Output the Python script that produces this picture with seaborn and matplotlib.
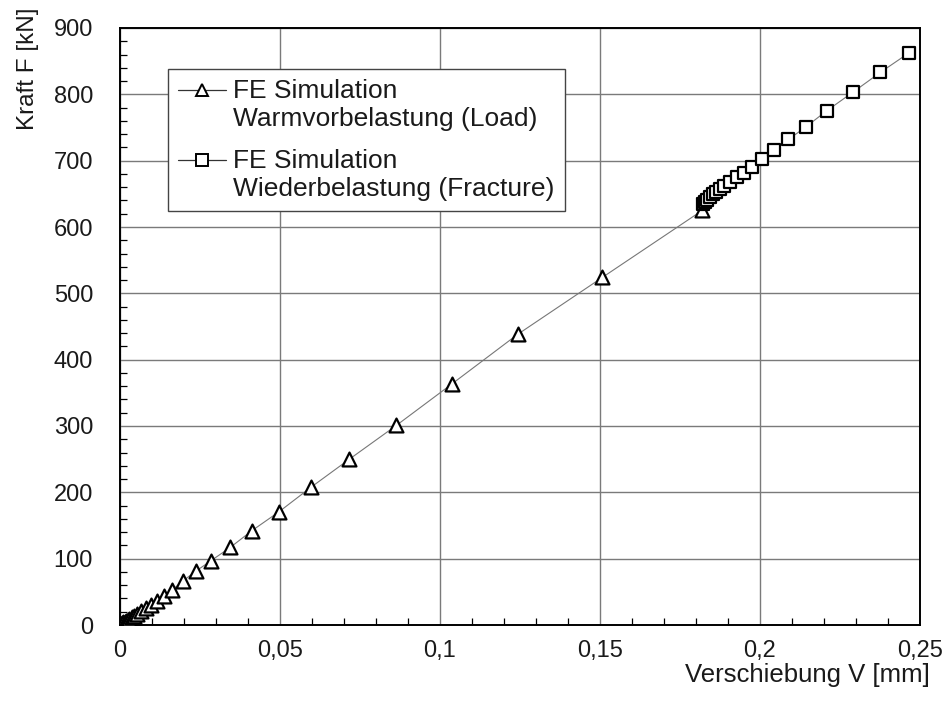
import numpy as np
import pandas as pd
import matplotlib
matplotlib.use("Agg")
import matplotlib.pyplot as plt
import seaborn as sns
from matplotlib.legend_handler import HandlerLine2D
from matplotlib.lines import Line2D
from matplotlib.ticker import MultipleLocator

# ---- data ----
load_v = [0.0, 0.0003, 0.0006, 0.0009, 0.0012, 0.0016, 0.0020, 0.0025, 0.0031,
          0.0038, 0.0046, 0.0056, 0.0068, 0.0082, 0.0099, 0.0117, 0.0138,
          0.0164, 0.0197, 0.0238, 0.0286, 0.0346, 0.0413, 0.0499, 0.0599,
          0.0718, 0.0865, 0.1037, 0.1243, 0.1508, 0.1820]
load_f = [0, 1, 2, 3, 4, 5.2, 6.4, 7.8, 9.5, 11.5, 14, 17, 20.5, 25, 30, 36.4,
          43.5, 52.5, 66, 81, 97, 117, 142, 171, 208, 250, 301, 363, 438, 524, 625]

frac_v = [0.1822, 0.1828, 0.1835, 0.1843, 0.1852, 0.1862, 0.1875, 0.1889,
          0.1907, 0.1928, 0.1951, 0.1975, 0.2008, 0.2044, 0.2089, 0.2144,
          0.2208, 0.2290, 0.2376, 0.2467]
frac_f = [634, 637, 641, 645, 649, 653, 657, 662, 668, 675, 682, 691, 702,
          716, 732, 751, 775, 803, 833, 863]

x_ticks = [0, 0.05, 0.1, 0.15, 0.2, 0.25]
x_ticklabels = ["0", "0,05", "0,1", "0,15", "0,2", "0,25"]
y_ticks = [0, 100, 200, 300, 400, 500, 600, 700, 800, 900]

label_load = ["FE Simulation", "Warmvorbelastung (Load)"]
label_frac = ["FE Simulation", "Wiederbelastung (Fracture)"]
x_label = "Verschiebung V [mm]"
y_label = "Kraft F [kN]"

# ---- styling ----
sns.set_theme(style="white")
plt.rcParams["font.family"] = ["Liberation Sans", "DejaVu Sans"]
TXT = "#1a1a1a"

fig = plt.figure(figsize=(9.5, 7.04), dpi=100)
ax = fig.add_axes([119.5 / 950, 79 / 704, 800.5 / 950, 597 / 704])

all_df = pd.DataFrame({"V": load_v + frac_v, "F": load_f + frac_f})
sns.lineplot(data=all_df, x="V", y="F", sort=False, estimator=None,
             color="#777777", linewidth=0.8, ax=ax, zorder=3)

load_df = pd.DataFrame({"V": load_v, "F": load_f})
frac_df = pd.DataFrame({"V": frac_v, "F": frac_f})
sns.scatterplot(data=load_df, x="V", y="F", marker="^", s=100,
                facecolor="white", edgecolor="black", linewidth=1.6,
                ax=ax, zorder=4)
sns.scatterplot(data=frac_df, x="V", y="F", marker="s", s=82,
                facecolor="white", edgecolor="black", linewidth=1.6,
                ax=ax, zorder=4)

ax.set_xlim(0, 0.25)
ax.set_ylim(0, 900)
ax.set_xticks(x_ticks)
ax.set_xticklabels(x_ticklabels)
ax.set_yticks(y_ticks)
ax.xaxis.set_minor_locator(MultipleLocator(0.01))
ax.yaxis.set_minor_locator(MultipleLocator(20))
ax.tick_params(axis="both", which="both", direction="in", colors="black",
               labelcolor=TXT)
ax.tick_params(axis="both", which="major", length=0, labelsize=17)
ax.tick_params(axis="x", which="major", pad=11)
ax.tick_params(axis="y", which="major", pad=19)
ax.tick_params(axis="both", which="minor", length=5, width=0.9)
ax.tick_params(bottom=True, left=True, which="both")

ax.grid(True, which="major", color="#7a7a7a", linewidth=1.0)
ax.set_axisbelow(True)
for sp in ax.spines.values():
    sp.set_visible(True)
    sp.set_color("black")
    sp.set_linewidth(1.4)

ax.set_xlabel(x_label, fontsize=18.5, color=TXT, loc="right")
ax.xaxis.set_label_coords(1.0125, -0.064)
ax.xaxis.label.set_va("top")
ax.set_ylabel(y_label, fontsize=17.5, color=TXT, loc="top")
ax.yaxis.set_label_coords(-0.1, 1.035)


class FirstLineHandler(HandlerLine2D):
    def __init__(self, shift, **kw):
        super().__init__(**kw)
        self.shift = shift

    def create_artists(self, legend, orig_handle, xdescent, ydescent,
                       width, height, fontsize, trans):
        arts = super().create_artists(legend, orig_handle, xdescent, ydescent,
                                      width, height, fontsize, trans)
        for a in arts:
            a.set_ydata(np.asarray(a.get_ydata()) + self.shift * fontsize)
        return arts


h1 = Line2D([], [], color="#333333", linewidth=0.9, marker="^",
            markersize=9, markerfacecolor="white", markeredgecolor="black",
            markeredgewidth=1.4)
h2 = Line2D([], [], color="#333333", linewidth=0.9, marker="s",
            markersize=8, markerfacecolor="white", markeredgecolor="black",
            markeredgewidth=1.4)
leg = ax.legend([h1, h2], ["\n".join(label_load), "\n".join(label_frac)],
                loc="upper left", bbox_to_anchor=(0.0606, 0.931),
                borderaxespad=0, fontsize=19, frameon=True, fancybox=False,
                edgecolor="#444444", framealpha=1, handlelength=1.8,
                handletextpad=0.3, labelspacing=0.7, borderpad=0.38,
                handler_map={h1: FirstLineHandler(0.6),
                             h2: FirstLineHandler(0.6)})
leg.get_frame().set_linewidth(1.0)
for t in leg.get_texts():
    t.set_color(TXT)
    t.set_linespacing(1.2)

fig.savefig("out.png", dpi=100, facecolor="white")
